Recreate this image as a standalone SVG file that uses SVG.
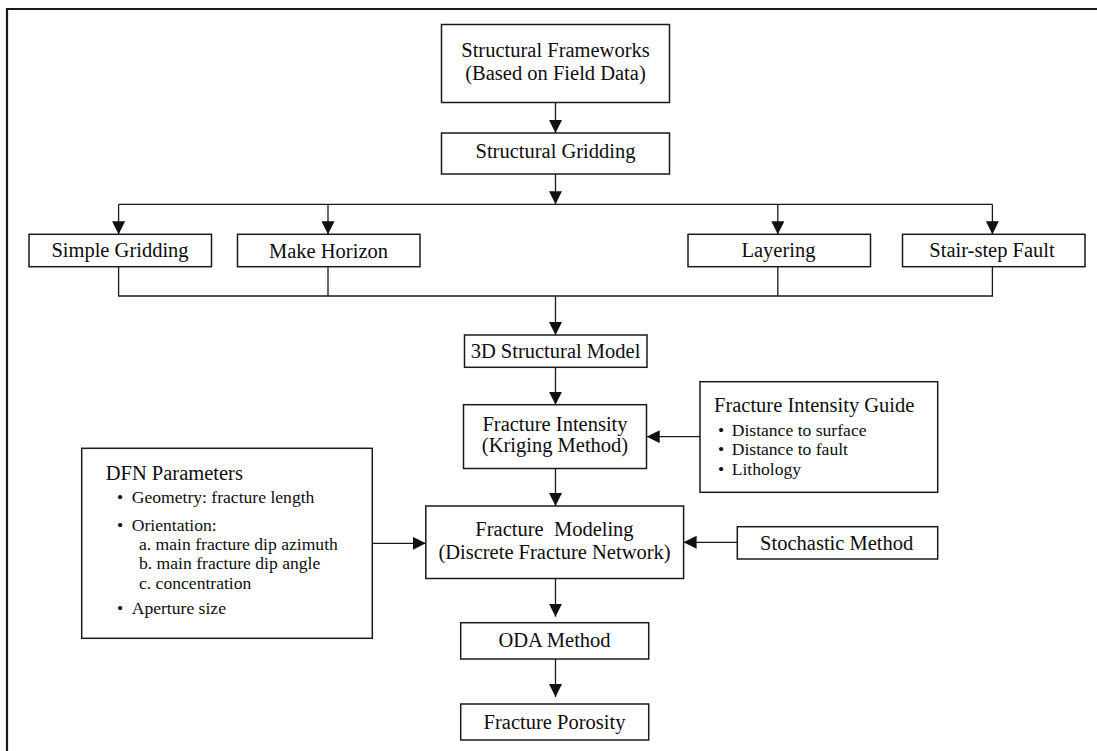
<svg xmlns="http://www.w3.org/2000/svg" width="1097" height="751" viewBox="0 0 1097 751">
<style>
.box{fill:#fff;stroke:#1a1a1a;stroke-width:1.5}
.t{font-family:"Liberation Serif","Times New Roman",serif;font-size:20.5px;fill:#0d0d0d}
.c{text-anchor:middle}
.s{font-family:"Liberation Serif","Times New Roman",serif;font-size:17.6px;fill:#0d0d0d}
.ln{fill:none;stroke:#1a1a1a;stroke-width:1.3}
.frame{fill:none;stroke:#1a1a1a;stroke-width:2.2}
</style>
<defs>
<marker id="ah" viewBox="0 0 13 13" refX="13" refY="6.5" markerWidth="13" markerHeight="13" markerUnits="userSpaceOnUse" orient="auto">
<path d="M0,0 L13,6.5 L0,13 Z" fill="#111"/>
</marker>
</defs>
<rect width="1097" height="751" fill="#fff"/>
<path class="frame" d="M7,751 V9 H1097"/>

<g id="connectors">
<path class="ln" d="M555.5,102.5 V133" marker-end="url(#ah)"/>
<path class="ln" d="M555.5,174 V204.3" marker-end="url(#ah)"/>
<path class="ln" d="M118.6,204.3 H992.4"/>
<path class="ln" d="M118.6,204.3 V234.3" marker-end="url(#ah)"/>
<path class="ln" d="M328,204.3 V234.3" marker-end="url(#ah)"/>
<path class="ln" d="M777.8,204.3 V234.3" marker-end="url(#ah)"/>
<path class="ln" d="M992.4,204.3 V234.3" marker-end="url(#ah)"/>
<path class="ln" d="M118.6,266.7 V296 H992.4 V266.7 M328,266.7 V296 M777.8,266.7 V296"/>
<path class="ln" d="M555.5,296 V335" marker-end="url(#ah)"/>
<path class="ln" d="M555.5,367.3 V404.7" marker-end="url(#ah)"/>
<path class="ln" d="M555.5,468.5 V506" marker-end="url(#ah)"/>
<path class="ln" d="M700,436.7 H646.7" marker-end="url(#ah)"/>
<path class="ln" d="M737.3,542.3 H683.6" marker-end="url(#ah)"/>
<path class="ln" d="M372.3,543.3 H425.8" marker-end="url(#ah)"/>
<path class="ln" d="M555.5,578.5 V616.7" marker-end="url(#ah)"/>
<path class="ln" d="M555.5,659 V697" marker-end="url(#ah)"/>
</g>

<g id="structural-frameworks">
<rect class="box" x="441.5" y="24.5" width="228" height="78"/>
<text class="t c" x="555.5" y="57">Structural Frameworks</text>
<text class="t c" x="555.5" y="80">(Based on Field Data)</text>
</g>
<g id="structural-gridding">
<rect class="box" x="441.5" y="133" width="228" height="41"/>
<text class="t c" x="555.5" y="158">Structural Gridding</text>
</g>
<g id="simple-gridding">
<rect class="box" x="29" y="234.3" width="182.5" height="32.4"/>
<text class="t c" x="120" y="257">Simple Gridding</text>
</g>
<g id="make-horizon">
<rect class="box" x="237.5" y="234.3" width="182.5" height="32.4"/>
<text class="t c" x="328.5" y="257.5">Make Horizon</text>
</g>
<g id="layering">
<rect class="box" x="688" y="234.3" width="182.5" height="32.4"/>
<text class="t c" x="778.5" y="257">Layering</text>
</g>
<g id="stair-step-fault">
<rect class="box" x="902.5" y="234.3" width="182.5" height="32.4"/>
<text class="t c" x="992" y="257">Stair-step Fault</text>
</g>
<g id="structural-model">
<rect class="box" x="464.5" y="335" width="182.5" height="32.3"/>
<text class="t c" x="555.5" y="357.5">3D Structural Model</text>
</g>
<g id="fracture-intensity">
<rect class="box" x="463.5" y="404.7" width="183" height="63.8"/>
<text class="t c" x="555" y="430.5">Fracture Intensity</text>
<text class="t c" x="555" y="451.7">(Kriging Method)</text>
</g>
<g id="fracture-intensity-guide">
<rect class="box" x="700" y="381.7" width="237.7" height="110.6"/>
<text class="t" x="714" y="412">Fracture Intensity Guide</text>
<text class="s" x="718" y="436">•</text><text class="s" x="731.7" y="436">Distance to surface</text>
<text class="s" x="718" y="455">•</text><text class="s" x="731.7" y="455">Distance to fault</text>
<text class="s" x="718" y="474.5">•</text><text class="s" x="731.7" y="474.5">Lithology</text>
</g>
<g id="dfn-parameters">
<rect class="box" x="81.7" y="448.3" width="290.6" height="190"/>
<text class="t" x="105.7" y="480">DFN Parameters</text>
<text class="s" x="117" y="502.7">•</text><text class="s" x="131.7" y="502.7">Geometry: fracture length</text>
<text class="s" x="117" y="530.7">•</text><text class="s" x="131.7" y="530.7">Orientation:</text>
<text class="s" x="139" y="550">a. main fracture dip azimuth</text>
<text class="s" x="139" y="569.3">b. main fracture dip angle</text>
<text class="s" x="139" y="589">c. concentration</text>
<text class="s" x="117" y="614">•</text><text class="s" x="131.7" y="614">Aperture size</text>
</g>
<g id="fracture-modeling">
<rect class="box" x="425.8" y="506" width="257.8" height="72.5"/>
<text class="t c" x="554.5" y="536" xml:space="preserve">Fracture  Modeling</text>
<text class="t c" x="554.5" y="559.3">(Discrete Fracture Network)</text>
</g>
<g id="stochastic-method">
<rect class="box" x="737.3" y="526.7" width="200.4" height="32.3"/>
<text class="t c" x="836.7" y="550">Stochastic Method</text>
</g>
<g id="oda-method">
<rect class="box" x="460.7" y="622.7" width="188" height="36.3"/>
<text class="t c" x="554.5" y="647.3">ODA Method</text>
</g>
<g id="fracture-porosity">
<rect class="box" x="460.7" y="704" width="188" height="36"/>
<text class="t c" x="554.5" y="729.3">Fracture Porosity</text>
</g>
</svg>
